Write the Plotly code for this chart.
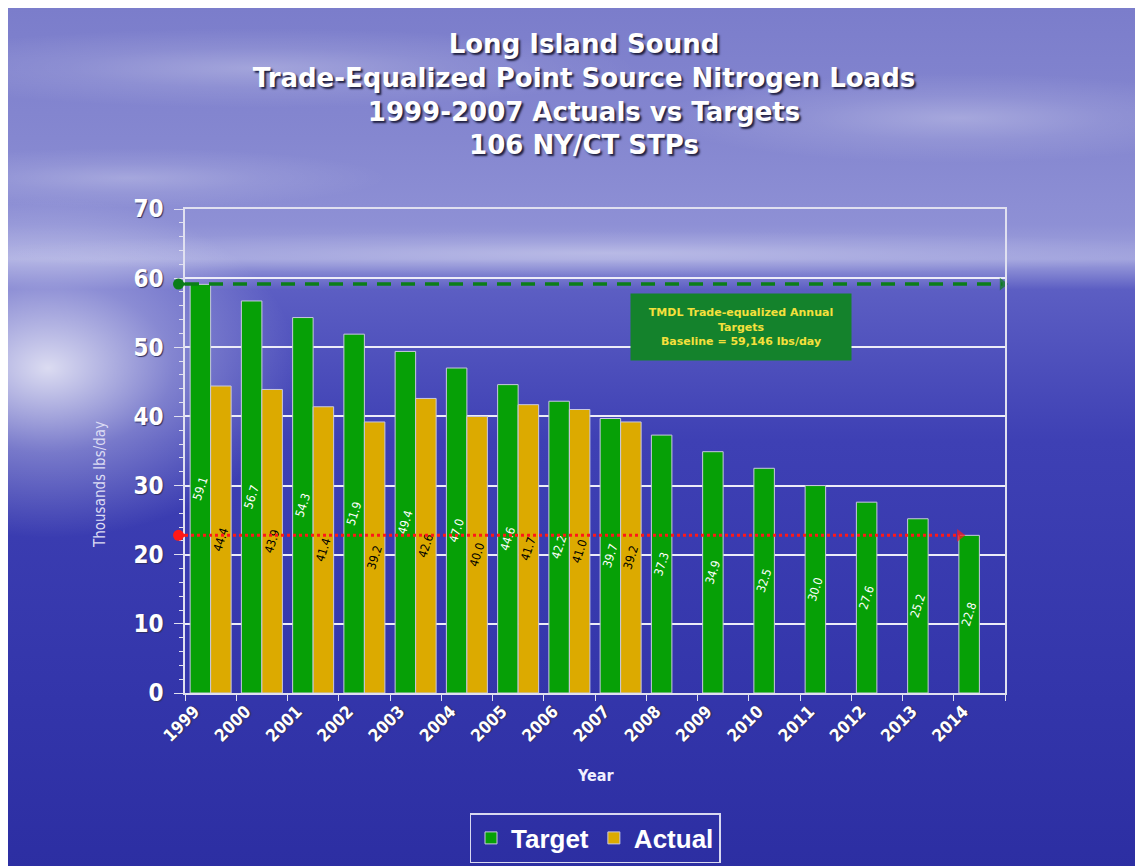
import base64
import plotly.graph_objects as go

# data
years = [str(y) for y in range(1999, 2015)]
target = [59.1, 56.7, 54.3, 51.9, 49.4, 47.0, 44.6, 42.2, 39.7, 37.3, 34.9, 32.5, 30.0, 27.6, 25.2, 22.8]
actual = [44.4, 43.9, 41.4, 39.2, 42.6, 40.0, 41.7, 41.0, 39.2, None, None, None, None, None, None, None]
baseline = 59.146
final_target = 22.8

title_lines = ["Long Island Sound", "Trade-Equalized Point Source Nitrogen Loads",
               "1999-2007 Actuals vs Targets", "106 NY/CT STPs"]
box_text = "TMDL Trade-equalized Annual<br>Targets<br>Baseline = 59,146 lbs/day"

# the page body adds 8px, so the figure is laid out 8px up/left of the screen
W, H = 1143, 866
OFF = 8
L, T = 185 - OFF, 209 - OFF
R, B = W - (1005 - OFF), H - (693 - OFF)
pw, ph = W - L - R, H - T - B


def px_x(sx):
    return (sx - 185) / pw


def px_y(sy):
    return (693 - sy) / ph


NARROW = "Liberation Sans Narrow, DejaVu Sans Condensed, Arial Narrow, sans-serif"
TAHOMA = "DejaVu Sans, Verdana, sans-serif"
GREEN_LINE = "#0b7d19"
RED_LINE = "#ff1818"

# sky / sea backdrop as an svg gradient
svg = """<svg xmlns="http://www.w3.org/2000/svg" width="1143" height="866" viewBox="0 0 1143 866" preserveAspectRatio="none">
<defs>
<linearGradient id="g" x1="0" y1="0" x2="0" y2="1">
<stop offset="0" stop-color="#7b7dcb"/>
<stop offset="0.15" stop-color="#8587d0"/>
<stop offset="0.25" stop-color="#8e90d5"/>
<stop offset="0.29" stop-color="#a0a2dd"/>
<stop offset="0.325" stop-color="#5c5ec3"/>
<stop offset="0.5" stop-color="#3e40b4"/>
<stop offset="0.8" stop-color="#3335aa"/>
<stop offset="1" stop-color="#2c2ea2"/>
</linearGradient>
<radialGradient id="r" cx="0.5" cy="0.5" r="0.5">
<stop offset="0" stop-color="#ffffff" stop-opacity="0.8"/>
<stop offset="0.5" stop-color="#ffffff" stop-opacity="0.3"/>
<stop offset="1" stop-color="#ffffff" stop-opacity="0"/>
</radialGradient>
</defs>
<rect width="1143" height="866" fill="url(#g)"/>
<ellipse cx="40" cy="360" rx="250" ry="170" fill="url(#r)"/>
<ellipse cx="250" cy="60" rx="380" ry="40" fill="url(#r)" opacity="0.35"/>
<ellipse cx="950" cy="110" rx="300" ry="45" fill="url(#r)" opacity="0.35"/>
<ellipse cx="600" cy="245" rx="650" ry="22" fill="url(#r)" opacity="0.35"/>
<ellipse cx="120" cy="170" rx="260" ry="30" fill="url(#r)" opacity="0.3"/>
</svg>"""
bg_src = "data:image/svg+xml;base64," + base64.b64encode(svg.encode()).decode()

fig = go.Figure()

fig.add_trace(go.Bar(
    x=years, y=target, name="Target",
    marker=dict(color="#06a006", line=dict(color="#c8c8e0", width=1)),
    texttemplate="%{y:.1f}", textposition="inside", insidetextanchor="middle",
    textangle=-72, constraintext="none",
    textfont=dict(family=NARROW, size=12, color="white"),
))
fig.add_trace(go.Bar(
    x=years, y=actual, name="Actual",
    marker=dict(color="#dcaa00", line=dict(color="#c8c8e0", width=1)),
    texttemplate="%{y:.1f}", textposition="inside", insidetextanchor="middle",
    textangle=-72, constraintext="none",
    textfont=dict(family=NARROW, size=12, color="black"),
))

# reference lines, drawn on a hidden x axis spanning the plot width
fig.add_trace(go.Scatter(
    x=[0.0, 0.997], y=[baseline, baseline], xaxis="x2", mode="lines+markers",
    line=dict(color=GREEN_LINE, width=3.5, dash="14px,10px"),
    marker=dict(symbol=["circle", "triangle-right"], size=[1, 11], color=GREEN_LINE,
                line=dict(width=0)),
    showlegend=False, cliponaxis=False, hoverinfo="skip",
))
fig.add_trace(go.Scatter(
    x=[0.0, 0.945], y=[final_target, final_target], xaxis="x2", mode="lines+markers",
    line=dict(color=RED_LINE, width=3, dash="dot"),
    marker=dict(symbol=["circle", "triangle-right"], size=[1, 11], color=RED_LINE,
                line=dict(width=0)),
    showlegend=False, cliponaxis=False, hoverinfo="skip",
))

# round start caps of the two reference lines, just left of the y axis
for yv, col in [(baseline, GREEN_LINE), (final_target, RED_LINE)]:
    fig.add_shape(type="circle", xref="x domain", yref="y",
                  xsizemode="pixel", ysizemode="pixel", xanchor=0, yanchor=yv,
                  x0=-12, x1=-1, y0=-5.5, y1=5.5,
                  fillcolor=col, line=dict(width=0), layer="above")
    fig.add_shape(type="line", xref="x domain", yref="y",
                  xsizemode="pixel", xanchor=0, x0=-6, x1=0, y0=yv, y1=yv,
                  line=dict(color=col, width=3), layer="above")

fig.add_annotation(
    x=px_x(741), y=px_y(327), xref="paper", yref="paper", xanchor="center", yanchor="middle",
    text=box_text, showarrow=False, width=214, height=60, borderpad=3,
    bgcolor="#14822c", font=dict(family=TAHOMA, size=11, color="#f4e03c", weight="bold"),
)
fig.add_annotation(
    x=px_x(100), y=px_y(485), xref="paper", yref="paper", xanchor="center", yanchor="middle",
    text="Thousands lbs/day", textangle=-90, showarrow=False,
    font=dict(family=NARROW, size=15, color="#dcdcf4"),
)
fig.add_annotation(
    x=px_x(595), y=px_y(775), xref="paper", yref="paper", xanchor="center", yanchor="middle",
    text="Year", showarrow=False,
    font=dict(family=NARROW, size=16, color="#f0f0ff", weight="bold"),
)

fig.update_layout(
    width=W, height=H,
    margin=dict(l=L, r=R, t=T, b=B, autoexpand=False),
    paper_bgcolor="white", plot_bgcolor="rgba(0,0,0,0)",
    barmode="group", bargap=0.2, bargroupgap=0.0,
    title=dict(
        text="<br>".join(title_lines), x=(584 - OFF) / W, xanchor="center",
        y=1 - (53 - OFF) / H, yanchor="top", yref="container",
        font=dict(family=TAHOMA, size=26, color="white", weight="bold",
                  shadow="2px 2px 2px #202040"),
    ),
    images=[dict(source=bg_src, xref="paper", yref="paper",
                 x=-L / pw, y=1 + T / ph, sizex=W / pw, sizey=H / ph,
                 sizing="stretch", layer="below", xanchor="left", yanchor="top")],
    xaxis=dict(
        type="category", tickangle=-45, tickson="boundaries", ticklabelshift=-16,
        ticks="outside", ticklen=6, tickcolor="#e0e0f0", automargin=False,
        showline=True, linecolor="#e0e0f0", linewidth=1.5, mirror=True,
        showgrid=False,
        tickfont=dict(family=NARROW, size=17, color="white", weight="bold",
                      shadow="1px 1px 1px #303060"),
    ),
    xaxis2=dict(overlaying="x", range=[0, 1], visible=False),
    yaxis=dict(
        range=[0, 70], dtick=10, ticks="outside", ticklen=9, tickcolor="#e0e0f0",
        minor=dict(dtick=2, ticks="outside", ticklen=4, tickcolor="#e0e0f0", showgrid=False),
        showline=True, linecolor="#e0e0f0", linewidth=1.5, mirror=True,
        showgrid=True, gridcolor="#ececf8", gridwidth=1.5, zeroline=False,
        ticklabelstandoff=6, automargin=False,
        tickfont=dict(family=NARROW, size=24, color="white", weight="bold",
                      shadow="1px 1px 1px #303060"),
    ),
    legend=dict(
        orientation="h", x=0.5, xanchor="center", y=px_y(838), yanchor="middle",
        bgcolor="rgba(0,0,0,0)", bordercolor="#d8d8f0", borderwidth=1.5,
        font=dict(family="Liberation Sans, Arial, sans-serif", size=26, color="white", weight="bold"),
        itemwidth=30,
    ),
)

fig.write_html("out.html")
